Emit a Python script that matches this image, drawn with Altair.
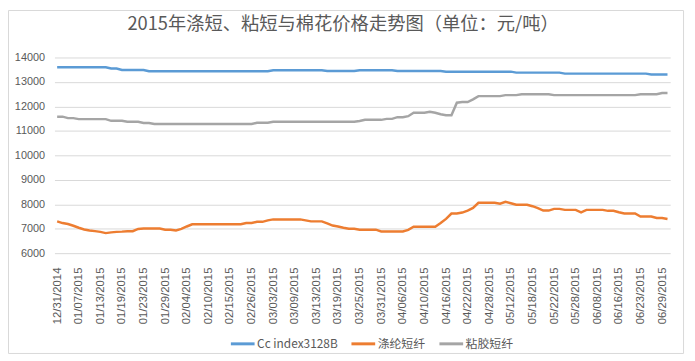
import json
import altair as alt
import pandas as pd

title_text = "2015年涤短、粘短与棉花价格走势图（单位：元/吨）"
series_names = ["Cc index3128B", "涤纶短纤", "粘胶短纤"]
series_colors = ["#5b9bd5", "#ed7d31", "#a5a5a5"]

tick_labels = ["12/31/2014", "01/07/2015", "01/13/2015", "01/19/2015", "01/23/2015",
               "01/29/2015", "02/04/2015", "02/10/2015", "02/15/2015", "02/26/2015",
               "03/03/2015", "03/09/2015", "03/13/2015", "03/19/2015", "03/25/2015",
               "03/31/2015", "04/06/2015", "04/10/2015", "04/16/2015", "04/22/2015",
               "04/28/2015", "05/12/2015", "05/18/2015", "05/22/2015", "05/28/2015",
               "06/08/2015", "06/16/2015", "06/23/2015", "06/29/2015"]

cotton = [13600, 13600, 13600, 13600, 13600, 13600, 13600, 13600, 13600, 13600,
          13550, 13550, 13490, 13490, 13490, 13490, 13490, 13440, 13440, 13440,
          13440, 13440, 13440, 13440, 13440, 13440, 13440, 13440, 13440, 13440,
          13440, 13440, 13440, 13440, 13440, 13440, 13440, 13440, 13440, 13440,
          13480, 13480, 13480, 13480, 13480, 13480, 13480, 13480, 13480, 13480,
          13450, 13450, 13450, 13450, 13450, 13450, 13480, 13480, 13480, 13480,
          13480, 13480, 13480, 13450, 13450, 13450, 13450, 13450, 13450, 13450,
          13450, 13450, 13420, 13420, 13420, 13420, 13420, 13420, 13420, 13420,
          13420, 13420, 13420, 13420, 13420, 13380, 13380, 13380, 13380, 13380,
          13380, 13380, 13380, 13380, 13340, 13340, 13340, 13340, 13340, 13340,
          13340, 13340, 13340, 13340, 13340, 13340, 13340, 13340, 13340, 13340,
          13300, 13300, 13300, 13300]

polyester = [7300, 7230, 7190, 7120, 7040, 6970, 6930, 6900, 6870, 6820,
             6850, 6870, 6880, 6900, 6900, 6990, 7010, 7010, 7010, 7010,
             6960, 6960, 6930, 6990, 7090, 7180, 7180, 7180, 7180, 7180,
             7180, 7180, 7180, 7180, 7180, 7230, 7230, 7280, 7280, 7340,
             7380, 7380, 7380, 7380, 7380, 7380, 7340, 7300, 7300, 7300,
             7220, 7130, 7090, 7040, 7000, 7000, 6960, 6960, 6960, 6960,
             6890, 6890, 6890, 6890, 6890, 6950, 7080, 7080, 7080, 7080,
             7080, 7230, 7400, 7620, 7620, 7660, 7740, 7850, 8060, 8060,
             8060, 8060, 8020, 8100, 8040, 7980, 7980, 7980, 7920, 7840,
             7740, 7740, 7810, 7810, 7770, 7770, 7770, 7670, 7770, 7770,
             7770, 7770, 7730, 7730, 7670, 7620, 7620, 7620, 7500, 7500,
             7500, 7440, 7440, 7400]

viscose = [11580, 11580, 11520, 11520, 11480, 11480, 11480, 11480, 11480, 11480,
           11410, 11410, 11410, 11370, 11370, 11370, 11320, 11320, 11280, 11280,
           11280, 11280, 11280, 11280, 11280, 11280, 11280, 11280, 11280, 11280,
           11280, 11280, 11280, 11280, 11280, 11280, 11280, 11330, 11330, 11330,
           11370, 11370, 11370, 11370, 11370, 11370, 11370, 11370, 11370, 11370,
           11370, 11370, 11370, 11370, 11370, 11370, 11400, 11450, 11450, 11450,
           11450, 11490, 11490, 11560, 11560, 11600, 11740, 11740, 11740, 11780,
           11740, 11680, 11640, 11640, 12150, 12180, 12180, 12290, 12420, 12420,
           12420, 12420, 12420, 12460, 12460, 12460, 12500, 12500, 12500, 12500,
           12500, 12500, 12460, 12460, 12460, 12460, 12460, 12460, 12460, 12460,
           12460, 12460, 12460, 12460, 12460, 12460, 12460, 12460, 12500, 12500,
           12500, 12500, 12550, 12550]

rows = []
for name, vals in zip(series_names, [cotton, polyester, viscose]):
    for i, v in enumerate(vals):
        rows.append({"idx": i, "value": v, "series": name})
df = pd.DataFrame(rows)

n = len(cotton)
text_color = "#595959"
axis_font = "Liberation Sans"
cjk_font = "Noto Sans CJK SC"

lines = alt.Chart(df).mark_line(strokeWidth=2.5).encode(
    x=alt.X("idx:Q",
            scale=alt.Scale(domain=[-0.5, n - 0.5], nice=False, zero=False),
            axis=alt.Axis(values=list(range(0, n, 4)),
                          labelExpr=json.dumps(tick_labels) + "[round(datum.value / 4)]",
                          labelAngle=-90, ticks=False, tickSize=0, domain=False,
                          grid=False, labelPadding=14, title=None,
                          labelFont=axis_font, labelFontSize=11.5,
                          labelColor=text_color, labelOverlap=False)),
    y=alt.Y("value:Q",
            scale=alt.Scale(domain=[6000, 14000], nice=False, zero=False),
            axis=alt.Axis(values=list(range(6000, 14001, 1000)), format="d",
                          ticks=False, tickSize=0, domain=False, grid=True,
                          gridColor="#d9d9d9", gridWidth=1, labelPadding=10,
                          title=None, labelFont=axis_font, labelFontSize=11,
                          labelColor=text_color)),
    color=alt.Color("series:N",
                    scale=alt.Scale(domain=series_names, range=series_colors),
                    legend=alt.Legend(title=None, orient="none", legendX=177,
                                      legendY=276, direction="horizontal",
                                      symbolType="stroke", symbolSize=576,
                                      symbolStrokeWidth=3, labelFont=cjk_font,
                                      labelFontSize=12, labelColor=text_color,
                                      columnPadding=7, labelOffset=1)),
)

border = alt.Chart(alt.Data(values=[{}])).mark_rect(
    fillOpacity=0, stroke="#d9d9d9", strokeWidth=1
).encode(x=alt.value(-46.5), x2=alt.value(636.5), y=alt.value(-47.5), y2=alt.value(299.5))

title = alt.Chart(alt.Data(values=[{"t": title_text}])).mark_text(
    font=cjk_font, fontSize=18.5, color=text_color, align="center", baseline="middle"
).encode(x=alt.value(292), y=alt.value(-34), text="t:N")

chart = alt.layer(border, title, lines).properties(
    width=623, height=198,
    autosize=alt.AutoSizeParams(type="none"),
    padding={"left": 47, "top": 48, "right": 17, "bottom": 102},
).configure_view(strokeWidth=0)

chart.save("out.html", embed_options={"renderer": "svg", "actions": False})
